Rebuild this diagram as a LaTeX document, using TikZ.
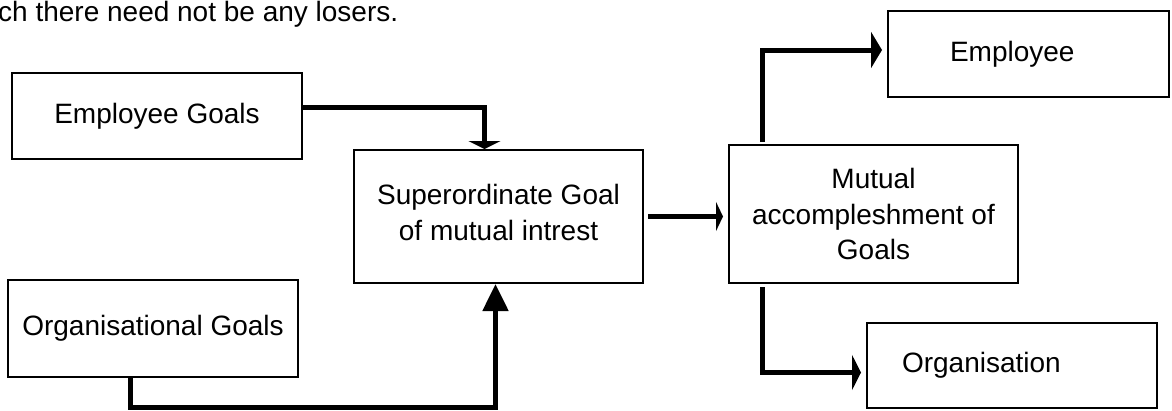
\documentclass[tikz,border=0pt]{standalone}
\usepackage{fontspec}
\setmainfont{Liberation Sans}
\usetikzlibrary{arrows.meta}

\begin{document}
\begin{tikzpicture}[x=1pt, y=-1pt,
  txt/.style={font=\fontsize{28}{35.5}\selectfont},
  box/.style={txt, draw, line width=2pt, align=center, minimum width=290pt, minimum height=86pt},
  link/.style={line width=5pt}]
\useasboundingbox (0,0) rectangle (1172,410);

% Text above (cut off)
\node[txt, anchor=base west, inner sep=0pt] (intro) at (-2,21) {ch there need not be any losers.};

% Goals of both sides
\node[box] (eg) at (157,116) {Employee Goals};
\node[box, minimum height=97pt] (og) at (153,328.5) {Organisational Goals};

% Common goal and result
\node[box, minimum width=289pt, minimum height=133pt] (sup) at (498.5,216.5) {Superordinate Goal\\of mutual intrest\\[-27.5pt]};
\node[box, minimum width=289pt, minimum height=138pt] (mut) at (873.5,214) {Mutual\\accompleshment of\\Goals};

% Who gains
\node[box, minimum width=0pt, text width=157pt, inner xsep=62pt, align=left] (emp) at (1028.5,54) {Employee};
\node[box, minimum width=0pt, minimum height=85pt, text width=220pt, inner xsep=35pt, align=left] (orgn) at (1012,365.5) {Organisation};

% Arrows
\draw[link, -{Triangle[width=32pt,length=8pt]}] ([yshift=9pt]eg.east) -| ([xshift=-14pt]sup.north);
\draw[link, -{Triangle[width=25pt,length=27pt]}] ([xshift=-23pt]og.south) -- ++(0,29) -| ([xshift=-3pt]sup.south);
\draw[link, -{Triangle[width=29pt,length=7pt]}, shorten <=4pt, shorten >=5pt] (sup.east) -- (sup.east -| mut.west);
\draw[link, -{Triangle[width=36pt,length=11pt]}, shorten <=2pt, shorten >=5pt] ([xshift=-111pt]mut.north) |- ([yshift=4pt]emp.west);
\draw[link, -{Triangle[width=35pt,length=9pt]}, shorten <=3pt, shorten >=5pt] ([xshift=-111pt]mut.south) |- ([yshift=-7pt]orgn.west);
\end{tikzpicture}
\end{document}
